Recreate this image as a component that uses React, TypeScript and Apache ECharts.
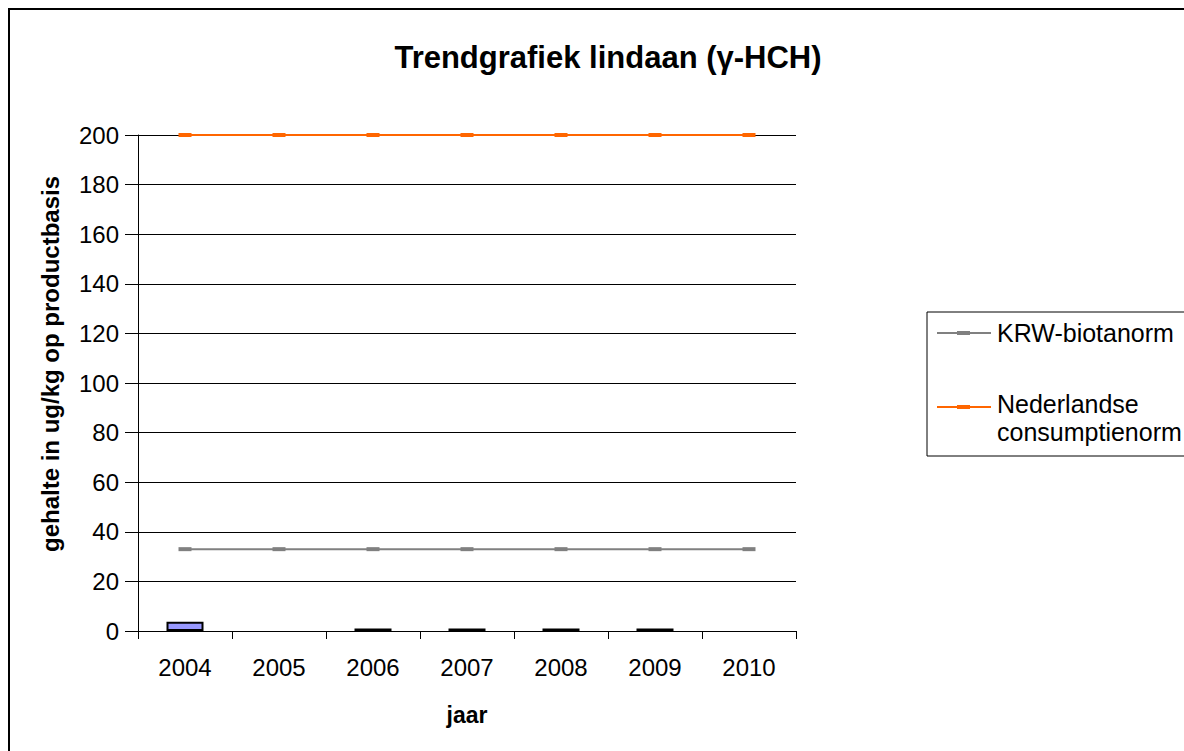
import React, { useEffect, useRef } from "react";
import * as echarts from "echarts";

const years = ["2004", "2005", "2006", "2007", "2008", "2009", "2010"];
const lindaan: (number | null)[] = [3.7, null, 1, 1, 1, 1, null];
const krwNorm = [33, 33, 33, 33, 33, 33, 33];
const nlNorm = [200, 200, 200, 200, 200, 200, 200];
const legendNames = ["KRW-biotanorm", "Nederlandse consumptienorm"];
const yAxisTitle = "gehalte in ug/kg op productbasis";

const FONT = "Liberation Sans, Arial, sans-serif";

export default function App() {
  const ref = useRef<HTMLDivElement>(null);
  useEffect(() => {
    document.body.style.margin = "0";
    const chart = echarts.init(ref.current!, null, { renderer: "svg" });
    chart.setOption({
      animation: false,
      backgroundColor: "#ffffff",
      title: {
        text: "Trendgrafiek lindaan (γ-HCH)",
        left: 603,
        textAlign: "center",
        top: 37,
        textStyle: { fontFamily: FONT, fontSize: 31, fontWeight: "bold", color: "#000" },
      },
      grid: { left: 138, right: 388, top: 135, bottom: 120 },
      xAxis: {
        type: "category",
        data: years,
        boundaryGap: true,
        name: "jaar",
        nameLocation: "middle",
        nameGap: 72,
        nameTextStyle: { fontFamily: FONT, fontSize: 23, fontWeight: "bold", color: "#000" },
        axisLine: { lineStyle: { color: "#000", width: 1 } },
        axisTick: { show: true, length: 8, lineStyle: { color: "#000" } },
        axisLabel: { fontFamily: FONT, fontSize: 24, color: "#000", margin: 24 },
      },
      yAxis: {
        type: "value",
        min: 0,
        max: 200,
        interval: 20,
        axisLine: { show: true, lineStyle: { color: "#000", width: 1 } },
        axisTick: { show: true, length: 13, lineStyle: { color: "#000" } },
        axisLabel: { fontFamily: FONT, fontSize: 24, color: "#000", margin: 19 },
        splitLine: { show: true, lineStyle: { color: "#000", width: 1 } },
      },
      series: [
        {
          name: "lindaan",
          type: "bar",
          data: lindaan,
          barWidth: 37,
          itemStyle: { color: "#9999FF", borderColor: "#000", borderWidth: 2 },
        },
        {
          name: legendNames[0],
          type: "line",
          data: krwNorm,
          symbol: "rect",
          symbolSize: [13, 4],
          lineStyle: { color: "#808080", width: 2 },
          itemStyle: { color: "#808080" },
        },
        {
          name: legendNames[1],
          type: "line",
          data: nlNorm,
          symbol: "rect",
          symbolSize: [13, 4],
          lineStyle: { color: "#FF6600", width: 2 },
          itemStyle: { color: "#FF6600" },
        },
      ],
      graphic: [
        {
          type: "rect",
          shape: { x: 9, y: 9, width: 1300, height: 900 },
          style: { fill: "none", stroke: "#000", lineWidth: 2 },
          silent: true,
        },
        {
          type: "text",
          x: 50,
          y: 364,
          rotation: Math.PI / 2,
          style: { text: yAxisTitle, font: `bold 24px ${FONT}`, fill: "#000", align: "center", verticalAlign: "middle" },
        },
        {
          type: "rect",
          shape: { x: 927, y: 312, width: 300, height: 144 },
          style: { fill: "#fff", stroke: "#000", lineWidth: 1 },
        },
        {
          type: "line",
          shape: { x1: 937, y1: 333, x2: 991, y2: 333 },
          style: { stroke: "#808080", lineWidth: 2 },
        },
        {
          type: "rect",
          shape: { x: 957, y: 331, width: 13, height: 4 },
          style: { fill: "#808080" },
        },
        {
          type: "text",
          x: 997,
          y: 333,
          style: { text: legendNames[0], font: `25px ${FONT}`, fill: "#000", verticalAlign: "middle", align: "left" },
        },
        {
          type: "line",
          shape: { x1: 937, y1: 407, x2: 991, y2: 407 },
          style: { stroke: "#FF6600", lineWidth: 2 },
        },
        {
          type: "rect",
          shape: { x: 957, y: 405, width: 13, height: 4 },
          style: { fill: "#FF6600" },
        },
        {
          type: "text",
          x: 997,
          y: 404,
          style: { text: "Nederlandse", font: `25px ${FONT}`, fill: "#000", verticalAlign: "middle", align: "left" },
        },
        {
          type: "text",
          x: 997,
          y: 432,
          style: { text: "consumptienorm", font: `25px ${FONT}`, fill: "#000", verticalAlign: "middle", align: "left" },
        },
      ],
    });
    return () => chart.dispose();
  }, []);
  return <div ref={ref} style={{ width: 1184, height: 751 }} />;
}
